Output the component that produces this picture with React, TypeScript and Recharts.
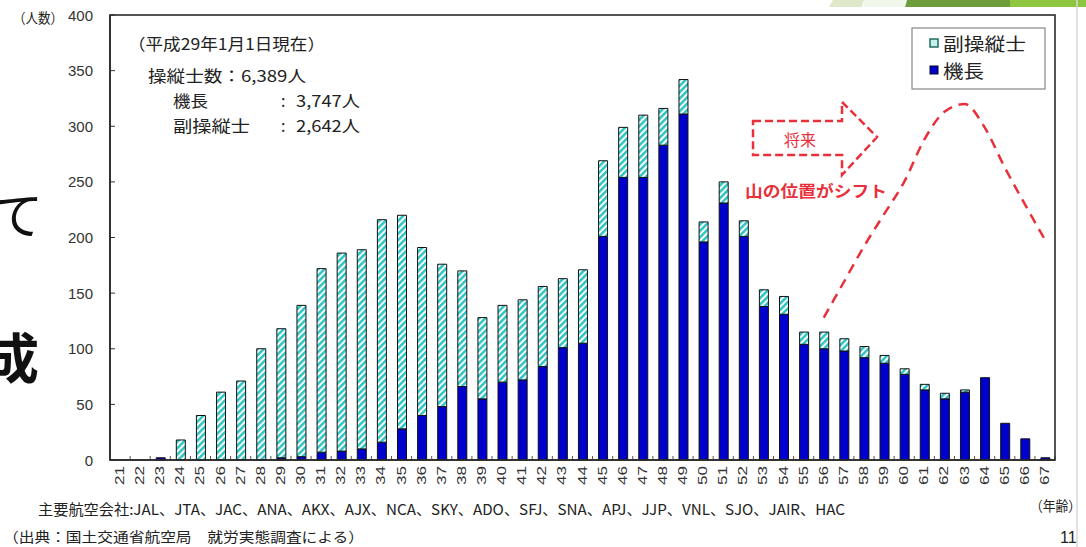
import React from 'react';
import { ComposedChart, Bar, Line, XAxis, YAxis } from 'recharts';

const ages = [
  '21','22','23','24','25','26','27','28','29','30','31','32','33','34','35','36','37','38','39','40',
  '41','42','43','44','45','46','47','48','49','50','51','52','53','54','55','56','57','58','59','60',
  '61','62','63','64','65','66','67',
];
// 機長 (captains)
const captain = [
  0, 0, 2, 0, 0, 0, 0, 0, 2, 3, 7, 8, 10, 16, 28, 40, 48, 66, 55, 70,
  72, 84, 101, 105, 201, 254, 254, 283, 311, 196, 231, 201, 138, 131, 104, 100, 98, 92, 87, 77,
  63, 55, 61, 74, 33, 19, 2,
];
// 副操縦士 (co-pilots)
const coPilot = [
  0, 0, 0, 18, 40, 61, 71, 100, 116, 136, 165, 178, 179, 200, 192, 151, 128, 104, 73, 69,
  72, 72, 62, 66, 68, 45, 56, 33, 31, 18, 19, 14, 15, 16, 11, 15, 11, 10, 7, 5,
  5, 5, 2, 0, 0, 0, 0,
];
// 将来の山（赤い破線）
const shiftCurve: (number | null)[] = [
  null, null, null, null, null, null, null, null, null, null, null, null, null, null, null, null, null, null, null, null,
  null, null, null, null, null, null, null, null, null, null, null, null, null, null, null, 128, 160, 192, 221, 250,
  288, 313, 320, 299, 263, 230, 198,
];
const yTicks = [0, 50, 100, 150, 200, 250, 300, 350, 400];
const yMax = 400;
const airlines = ['JAL','JTA','JAC','ANA','AKX','AJX','NCA','SKY','ADO','SFJ','SNA','APJ','JJP','VNL','SJO','JAIR','HAC'];

const data = ages.map((age, i) => ({
  age,
  captain: captain[i],
  coPilot: coPilot[i],
  shift: shiftCurve[i],
}));

// layout
const W = 1086;
const H = 547;
const MARGIN = { top: 15, right: 31, bottom: 57, left: 0 };
const Y_AXIS_W = 110;
const X_AXIS_H = 30;
const PLOT_X = MARGIN.left + Y_AXIS_W;
const PLOT_Y = MARGIN.top;
const PLOT_W = W - MARGIN.left - MARGIN.right - Y_AXIS_W;
const PLOT_H = H - MARGIN.top - MARGIN.bottom - X_AXIS_H;
const Y_TICK_MARGIN = 17;

const JP = '"Noto Sans CJK JP", "Liberation Sans", sans-serif';
const NUM = '"Liberation Sans", "Noto Sans CJK JP", sans-serif';
const RED = '#e8303a';

const XTick = (props: any) => {
  const { x, y, payload } = props;
  const half = PLOT_W / ages.length / 2;
  return (
    <g>
      <line x1={x + half} x2={x + half} y1={y - 6} y2={y - 10} stroke="#555" strokeWidth={1} />
      <text
        x={x}
        y={y}
        transform={`rotate(-90 ${x} ${y})`}
        textAnchor="end"
        dominantBaseline="central"
        fontSize={12}
        fontFamily={NUM}
        fill="#333"
        textLength={19}
        lengthAdjust="spacingAndGlyphs"
      >
        {payload.value}
      </text>
    </g>
  );
};

const YTick = (props: any) => {
  const { x, y, payload } = props;
  const ax = x + Y_TICK_MARGIN;
  return (
    <g>
      <line x1={ax} x2={ax + 5} y1={y} y2={y} stroke="#333" strokeWidth={1} />
      <text x={x} y={y} textAnchor="end" dominantBaseline="central" fontSize={15} fontFamily={NUM} fill="#333">
        {payload.value}
      </text>
    </g>
  );
};

const T = (p: any) => {
  const { children, ...rest } = p;
  return (
    <text dominantBaseline="central" fontFamily={JP} fill="#222" {...rest}>
      {children}
    </text>
  );
};

export default function App() {
  return (
    <div style={{ position: 'absolute', left: 0, top: 0, width: W, height: H, background: '#fff', overflow: 'hidden' }}>
      <svg width={0} height={0} style={{ position: 'absolute' }}>
        <defs>
          <pattern id="hatch" patternUnits="userSpaceOnUse" width={4.5} height={4.5} patternTransform="rotate(45)">
            <rect width={4.5} height={4.5} fill="#ffffff" />
            <rect width={2.5} height={4.5} fill="#2cc4c4" />
          </pattern>
        </defs>
      </svg>
      {/* slide background pieces */}
      <svg width={W} height={H} style={{ position: 'absolute', left: 0, top: 0 }}>
        <polygon points="829,7 833,0 864,0 862,7" fill="#dde9c8" />
        <rect x={864} y={0} width={41} height={7} fill="#f1f6ea" />
        <polygon points="905,7 907,0 1010,0 1010,7" fill="#6e9d3b" />
        <rect x={1010} y={0} width={76} height={7} fill="#8fc63f" />
        <line x1={1077} x2={1077} y1={0} y2={H} stroke="#d9d9d9" strokeWidth={1.5} />
        <text x={-7} y={212} dominantBaseline="central" fontFamily={JP} fontSize={50} fill="#111">て</text>
        <text x={-15} y={355} dominantBaseline="central" fontFamily={JP} fontSize={54} fontWeight={700} fill="#111">成</text>
      </svg>
      <div style={{ position: 'absolute', left: 0, top: 0 }}>
        <ComposedChart width={W} height={H} data={data} margin={MARGIN}>
          <XAxis
            dataKey="age"
            height={X_AXIS_H}
            interval={0}
            tickLine={false}
            tickSize={0}
            tickMargin={6}
            axisLine={{ stroke: '#222', strokeWidth: 1.5 }}
            tick={<XTick />}
          />
          <YAxis
            width={Y_AXIS_W}
            domain={[0, yMax]}
            ticks={yTicks}
            interval={0}
            tickLine={false}
            tickSize={0}
            tickMargin={Y_TICK_MARGIN}
            axisLine={{ stroke: '#222', strokeWidth: 1.5 }}
            tick={<YTick />}
          />
          <Bar dataKey="captain" stackId="s" fill="#0000cc" stroke="#111" strokeWidth={1} barSize={9} isAnimationActive={false} />
          <Bar dataKey="coPilot" stackId="s" fill="url(#hatch)" stroke="#111" strokeWidth={1} barSize={9} isAnimationActive={false} />
          <Line
            dataKey="shift"
            type="monotone"
            stroke={RED}
            strokeWidth={2.5}
            strokeDasharray="10 7"
            dot={false}
            activeDot={false}
            connectNulls={false}
            isAnimationActive={false}
          />
        </ComposedChart>
      </div>
      {/* annotations */}
      <svg width={W} height={H} style={{ position: 'absolute', left: 0, top: 0, pointerEvents: 'none' }}>
        {/* plot-box frame */}
        <rect x={PLOT_X} y={PLOT_Y} width={PLOT_W} height={PLOT_H} fill="none" stroke="#2a2a2a" strokeWidth={1.6} />

        <T x={13} y={17} fontSize={14} textLength={50} lengthAdjust="spacingAndGlyphs">（人数）</T>

        <T x={128} y={43} fontSize={16} textLength={197} lengthAdjust="spacingAndGlyphs">（平成29年1月1日現在）</T>
        <T x={148} y={75} fontSize={16} textLength={158} lengthAdjust="spacingAndGlyphs">操縦士数：6,389人</T>
        <T x={173} y={100} fontSize={16} textLength={35} lengthAdjust="spacingAndGlyphs">機長</T>
        <T x={281} y={100} fontSize={16}>:</T>
        <T x={296} y={100} fontSize={16} textLength={64} lengthAdjust="spacingAndGlyphs">3,747人</T>
        <T x={173} y={125} fontSize={16} textLength={77} lengthAdjust="spacingAndGlyphs">副操縦士</T>
        <T x={281} y={125} fontSize={16}>:</T>
        <T x={296} y={125} fontSize={16} textLength={64} lengthAdjust="spacingAndGlyphs">2,642人</T>

        {/* legend */}
        <rect x={912} y={28} width={133} height={61} fill="#fff" stroke="#888" strokeWidth={1.2} />
        <rect x={930} y={39} width={8} height={8} fill="#c4f2ec" stroke="#1e6e60" strokeWidth={1.5} />
        <T x={943} y={43} fontSize={18} textLength={83} lengthAdjust="spacingAndGlyphs">副操縦士</T>
        <rect x={930} y={66} width={8} height={8} fill="#0000cc" stroke="#002" strokeWidth={1} />
        <T x={943} y={70} fontSize={18} textLength={41} lengthAdjust="spacingAndGlyphs">機長</T>

        {/* future arrow */}
        <polygon
          points="753,121 842,121 842,102 877,137 842,175 842,155 753,155"
          fill="none"
          stroke={RED}
          strokeWidth={2.5}
          strokeDasharray="8 4"
        />
        <T x={800} y={139} fontSize={16} fill={RED} textAnchor="middle">将来</T>
        <T x={745} y={190} fontSize={16} fontWeight={700} fill={RED} textLength={142} lengthAdjust="spacingAndGlyphs">山の位置がシフト</T>

        {/* bottom texts */}
        <T x={38} y={508} fontSize={15} textLength={807} lengthAdjust="spacingAndGlyphs">
          {'主要航空会社:' + airlines.join('、')}
        </T>
        <T x={1030} y={505} fontSize={14} textLength={51} lengthAdjust="spacingAndGlyphs">（年齢）</T>
        <T x={3} y={536} fontSize={14} textLength={361} lengthAdjust="spacingAndGlyphs">（出典：国土交通省航空局　就労実態調査による）</T>
        <T x={1060} y={537} fontSize={16} fontFamily={NUM}>11</T>
      </svg>
    </div>
  );
}
